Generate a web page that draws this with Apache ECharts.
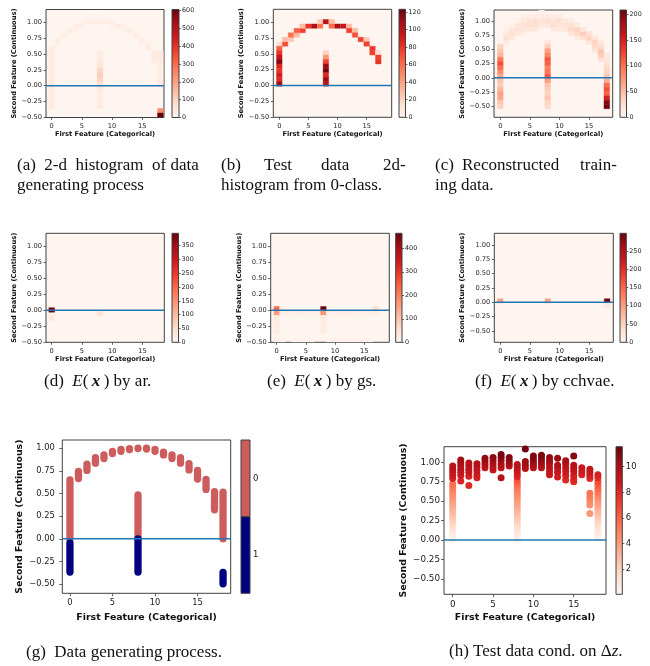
<!DOCTYPE html>
<html>
<head>
<meta charset="utf-8">
<title>Figure</title>
<script src="https://cdn.jsdelivr.net/npm/echarts@6.0.0/dist/echarts.min.js"></script>
<style>
html,body{margin:0;padding:0;background:#ffffff;}
#chart{width:650px;height:666px;}
</style>
</head>
<body>
<div id="chart"></div>
<script>
// ================= DATA =================
const xTickValues = [0, 5, 10, 15];
const yTickValues = [-0.5, -0.25, 0, 0.25, 0.5, 0.75, 1.0];
const zeroLineY = 0;

// (a) 2-d histogram of data generating process: [category, y-bin centre, count]
const histA = [
  [0,0.585,28],[0,0.515,35],[0,0.445,30],[0,0.375,35],[0,0.305,30],[0,0.235,35],[0,0.165,30],
  [0,0.095,35],[0,0.025,38],[0,-0.045,35],[0,-0.115,30],[0,-0.185,40],[0,-0.255,35],[0,-0.325,45],
  [8,0.515,25],[8,0.445,35],[8,0.375,45],[8,0.305,60],[8,0.235,95],[8,0.165,110],[8,0.095,100],
  [8,0.025,70],[8,-0.045,45],[8,-0.115,35],[8,-0.185,30],[8,-0.255,35],[8,-0.325,40],
  [18,0.515,45],[18,0.445,45],[18,0.375,40],[18,0.305,30],[18,0.235,30],[18,0.165,30],[18,0.095,35],
  [18,0.025,40],[18,-0.395,240],[18,-0.465,605],
  [17,0.515,45],[17,0.445,40],[17,0.375,30],
  [1,0.655,20],[1,0.725,30],[2,0.795,30],[3,0.865,30],[4,0.865,15],[4,0.935,30],[5,0.935,20],
  [5,1.005,15],[6,1.005,30],[7,1.005,25],[7,1.075,10],[8,1.005,30],[8,1.075,12],[9,1.005,30],
  [10,1.005,20],[10,0.935,15],[11,0.935,30],[12,0.935,20],[12,0.865,15],[13,0.865,30],[14,0.795,30],
  [15,0.725,25],[15,0.655,15],[16,0.655,25],[16,0.585,30]
];
// (b) test data 2d-histogram from 0-class
const histB = [
  [0,0.655,15],[0,0.585,65],[0,0.515,80],[0,0.445,95],[0,0.375,115],[0,0.305,85],[0,0.235,80],
  [0,0.165,90],[0,0.095,85],[0,0.025,110],
  [8,0.515,20],[8,0.445,45],[8,0.375,75],[8,0.305,110],[8,0.235,120],[8,0.165,85],[8,0.095,110],[8,0.025,100],
  [1,0.655,70],[1,0.725,30],[2,0.725,25],[2,0.795,60],[3,0.795,30],[3,0.865,65],[4,0.865,75],[4,0.935,30],
  [5,0.935,80],[6,0.935,105],[7,0.935,60],[7,1.005,25],[8,1.005,100],[9,1.005,30],[9,0.935,60],
  [10,0.935,105],[11,0.935,95],[12,0.935,30],[12,0.865,75],[13,0.865,30],[13,0.795,70],[14,0.725,75],
  [15,0.725,25],[15,0.655,75],[16,0.585,80],[16,0.515,75],[17,0.515,15],[17,0.445,75],[17,0.375,80]
];
// (c) reconstructed training data
const histC = [
  [0,0.554,35],[0,0.478,45],[0,0.402,55],[0,0.326,95],[0,0.250,120],[0,0.174,100],[0,0.098,80],
  [0,0.022,65],[0,-0.054,45],[0,-0.130,40],[0,-0.206,55],[0,-0.282,70],[0,-0.358,65],[0,-0.434,45],[0,-0.510,35],
  [8,0.630,20],[8,0.554,40],[8,0.478,70],[8,0.402,85],[8,0.326,115],[8,0.250,110],[8,0.174,90],[8,0.098,95],
  [8,0.022,120],[8,-0.054,70],[8,-0.130,45],[8,-0.206,40],[8,-0.282,35],[8,-0.358,45],[8,-0.434,35],[8,-0.510,30],
  [18,0.402,15],[18,0.326,20],[18,0.250,25],[18,0.174,30],[18,0.098,35],[18,0.022,45],[18,-0.054,60],[18,-0.130,100],
  [18,-0.206,120],[18,-0.282,110],[18,-0.358,150],[18,-0.434,195],[18,-0.510,205],
  [1,0.630,15],[1,0.706,25],[1,0.782,15],[1,0.858,8],
  [2,0.706,15],[2,0.782,25],[2,0.858,20],[2,0.934,8],
  [3,0.782,15],[3,0.858,25],[3,0.934,20],[3,1.010,8],
  [4,0.782,10],[4,0.858,20],[4,0.934,25],[4,1.010,15],[4,1.086,8],
  [5,0.858,20],[5,0.934,25],[5,1.010,20],[5,1.086,10],
  [6,0.858,15],[6,0.934,25],[6,1.010,25],[6,1.086,12],
  [7,0.934,15],[7,1.010,20],[7,1.086,15],[7,1.162,8],
  [8,0.934,20],[8,1.010,25],[8,1.086,15],
  [9,0.858,15],[9,0.934,25],[9,1.010,20],[9,1.086,10],
  [10,0.858,15],[10,0.934,20],[10,1.010,25],[10,1.086,12],
  [11,0.858,20],[11,0.934,25],[11,1.010,15],
  [12,0.782,20],[12,0.858,30],[12,0.934,25],[12,1.010,10],
  [13,0.706,15],[13,0.782,30],[13,0.858,35],[13,0.934,15],
  [14,0.706,25],[14,0.782,40],[14,0.858,20],
  [15,0.630,20],[15,0.706,35],[15,0.782,25],
  [16,0.478,15],[16,0.554,30],[16,0.630,35],[16,0.706,20],
  [17,0.326,25],[17,0.402,40],[17,0.478,45],[17,0.554,30],[17,0.630,15]
];
// (d) E(x) by ar.
const histD = [[0,0.005,390],[0,-0.12,30],[8,-0.055,45]];
// (e) E(x) by gs.
const histE = [
  [0,0.025,230],[0,-0.045,165],[0,-0.115,30],[0,-0.185,25],[0,-0.255,25],[0,-0.325,22],[0,-0.465,8],
  [1,0.025,25],[1,-0.045,20],[2,-0.045,15],[3,-0.045,14],[4,-0.045,16],[5,-0.045,14],[6,-0.045,16],[7,-0.045,12],
  [8,0.025,460],[8,-0.045,170],[8,-0.115,30],[8,-0.185,28],[8,-0.255,28],[8,-0.325,25],
  [9,-0.045,15],[10,-0.045,14],[11,-0.045,16],[12,-0.045,18],[13,-0.045,16],[14,-0.045,15],[15,-0.045,14],
  [16,-0.045,15],[17,0.025,60],[17,-0.045,20],
  [1,-0.465,6],[3,-0.465,8],[4,-0.465,8],[5,-0.465,6],[6,-0.465,8],[9,-0.465,6],[10,-0.465,8],
  [11,-0.465,8],[12,-0.465,10],[13,-0.465,8],[14,-0.465,6],[15,-0.465,8],[16,-0.465,6]
];
// (f) E(x) by cchvae.
const histF = [[0,0.022,95],[8,0.022,95],[18,0.022,295],[18,-0.054,25]];

// colour-bar ranges and tick labels
const cbRangeA = [0, 605], cbTicksA = [0, 100, 200, 300, 400, 500, 600];
const cbRangeB = [0, 123], cbTicksB = [0, 20, 40, 60, 80, 100, 120];
const cbRangeC = [0, 208], cbTicksC = [0, 50, 100, 150, 200];
const cbRangeD = [0, 395], cbTicksD = [0, 50, 100, 150, 200, 250, 300, 350];
const cbRangeE = [0, 464], cbTicksE = [0, 100, 200, 300, 400];
const cbRangeF = [0, 298], cbTicksF = [0, 50, 100, 150, 200, 250];
const cbRangeH = [0.05, 11.56], cbTicksH = [2, 4, 6, 8, 10];

// (g) data generating process: [category, lowest y, highest y] of the stacked points
const classLabels = ['1', '0'];
const class0Ranges = [
  [0,0.0,0.65],[1,0.665,0.745],[2,0.755,0.825],[3,0.835,0.895],[4,0.885,0.925],[5,0.94,0.965],
  [6,0.965,0.985],[7,0.985,0.995],[8,0.995,1.0],[9,0.99,1.0],[10,0.965,0.985],[11,0.925,0.955],
  [12,0.885,0.925],[13,0.835,0.895],[14,0.76,0.83],[15,0.66,0.755],[16,0.545,0.655],[17,0.32,0.52],
  [18,0.0,0.515],[8,0.0,0.485]
];
const class1Ranges = [[0,-0.365,-0.045],[8,-0.365,0.0],[18,-0.495,-0.37]];

// (h) test data conditioned on dz: [category, y, dz]
const dzPoints = [
  [0,0.00,0.15],[0,0.04,0.4],[0,0.08,0.7],[0,0.12,1.0],[0,0.16,1.4],[0,0.20,1.7],[0,0.24,2.0],[0,0.28,2.3],
  [0,0.32,2.6],[0,0.36,2.9],[0,0.40,3.2],[0,0.44,3.4],[0,0.48,3.7],[0,0.52,4.0],[0,0.56,4.3],[0,0.60,4.6],
  [0,0.64,4.9],[0,0.68,5.2],[0,0.72,5.6],[0,0.79,8.2],[0,0.83,8.6],[0,0.87,8.9],[0,0.91,9.2],[0,0.95,9.4],
  [1,0.76,8.2],[1,0.83,8.6],[1,0.87,9.0],[1,0.91,9.2],[1,0.95,9.5],[1,0.99,9.8],[1,1.03,10.2],
  [2,0.70,8.0],[2,0.82,8.4],[2,0.87,8.8],[2,0.91,9.1],[2,0.95,9.3],[2,0.99,9.6],
  [3,0.80,8.3],[3,0.84,8.6],[3,0.89,8.9],[3,0.94,9.2],[3,0.98,9.6],
  [4,0.93,9.2],[4,0.97,9.6],[4,1.01,10.0],[4,1.05,10.5],
  [5,0.90,9.0],[5,0.94,9.3],[5,0.98,9.7],[5,1.02,10.1],[5,1.06,10.6],
  [6,0.80,9.5],[6,0.93,9.3],[6,0.97,9.7],[6,1.02,10.2],[6,1.06,10.7],[6,1.10,11.2],
  [7,0.95,9.6],[7,0.98,10.0],[7,1.02,10.4],[7,1.06,10.9],
  [8,0.00,0.2],[8,0.04,0.5],[8,0.08,0.8],[8,0.12,1.1],[8,0.16,1.4],[8,0.20,1.7],[8,0.24,2.0],[8,0.28,2.3],
  [8,0.32,2.6],[8,0.36,2.9],[8,0.40,3.2],[8,0.44,3.5],[8,0.48,3.8],[8,0.52,4.1],[8,0.56,4.4],[8,0.60,4.7],
  [8,0.64,5.0],[8,0.68,5.4],[8,0.72,5.8],[8,0.76,6.3],[8,0.81,8.0],[8,0.85,8.4],[8,0.89,8.7],[8,0.93,9.0],[8,0.97,9.3],
  [9,0.92,9.5],[9,0.96,9.9],[9,1.01,10.3],[9,1.17,11.3],
  [10,0.93,9.5],[10,0.96,9.8],[10,1.00,10.2],[10,1.04,10.6],[10,1.08,11.0],
  [11,0.93,9.5],[11,0.97,9.9],[11,1.01,10.3],[11,1.05,10.7],[11,1.09,11.1],
  [12,0.84,8.7],[12,0.88,9.0],[12,0.93,9.3],[12,0.98,9.7],[12,1.02,10.0],[12,1.06,10.5],
  [13,0.81,8.5],[13,0.87,8.9],[13,0.92,9.2],[13,0.96,9.6],[13,1.05,10.4],
  [14,0.77,8.0],[14,0.83,8.4],[14,0.88,8.7],[14,0.93,9.1],[14,0.98,9.5],[14,1.02,10.0],
  [15,0.75,7.8],[15,0.78,8.1],[15,0.83,8.4],[15,0.88,8.8],[15,0.92,9.1],[15,0.96,9.5],[15,1.08,10.8],
  [16,0.84,8.2],[16,0.88,8.5],[16,0.93,8.8],
  [17,0.34,4.2],[17,0.45,4.4],[17,0.50,4.7],[17,0.55,5.0],[17,0.60,5.4],[17,0.79,8.0],[17,0.83,8.4],[17,0.87,8.8],[17,0.91,9.0],
  [18,0.02,0.2],[18,0.06,0.5],[18,0.10,0.8],[18,0.14,1.1],[18,0.18,1.4],[18,0.22,1.7],[18,0.26,2.0],[18,0.30,2.4],
  [18,0.34,2.7],[18,0.38,3.0],[18,0.42,3.4],[18,0.46,3.8],[18,0.50,4.1],[18,0.54,4.5],[18,0.58,4.9],[18,0.62,5.3],
  [18,0.66,5.8],[18,0.70,6.2],[18,0.75,6.8],[18,0.80,7.8],[18,0.84,8.3]
];

// ================= STYLE / LAYOUT =================
const REDS = ['#fff5f0','#fee0d2','#fcbba1','#fc9272','#fb6a4a','#ef3b2c','#cb181d','#a50f15','#67000d'];
const CLASS_COLORS = {'0': '#cd5c5c', '1': '#000080'};
const FONT = 'DejaVu Sans';
const SERIF = 'Liberation Serif';
const FRAME = '#404040';
const LINE_BLUE = '#1f77b4';

const small = {fs:6.7, nameFs:6.7, cbFs:6.4, xGap:13.5, xMargin:5, yMargin:4, tick:2.5, cbMargin:3, cw:0.95, lw:1.5};
const P = {
  a: Object.assign({}, small, {grid:{left:46, top:9.5, width:118, height:108}, cb:{left:172, top:9.5, width:7, height:108}, x:[-0.94,18.6], y:[-0.5,1.2], yGap:27, ch:0.07}),
  b: Object.assign({}, small, {grid:{left:273.3, top:9.3, width:118.4, height:108}, cb:{left:399, top:9.3, width:6.5, height:108}, x:[-1.03,19.3], y:[-0.5,1.2], yGap:26, ch:0.07}),
  c: Object.assign({}, small, {grid:{left:494, top:10, width:118.7, height:107.3}, cb:{left:620, top:10, width:6.5, height:107.3}, x:[-1.07,19.0], y:[-0.7,1.2], yGap:26, ch:0.076}),
  d: Object.assign({}, small, {grid:{left:46, top:233.3, width:118.3, height:109}, cb:{left:172, top:233.3, width:6.5, height:109}, x:[-0.94,18.6], y:[-0.5,1.2], yGap:27, ch:0.07, xGap:13}),
  e: Object.assign({}, small, {grid:{left:270.7, top:233.3, width:118.6, height:109}, cb:{left:395.7, top:233.3, width:6.3, height:109}, x:[-1.03,19.3], y:[-0.5,1.2], yGap:24, ch:0.07, xGap:13}),
  f: Object.assign({}, small, {grid:{left:494.3, top:233.3, width:119, height:109}, cb:{left:620, top:233.3, width:6.3, height:109}, x:[-1.01,19.04], y:[-0.7,1.2], yGap:26, ch:0.076, xGap:13}),
  g: {grid:{left:62.3, top:440, width:168.4, height:153.3}, cb:{left:241, top:440, width:9, height:153.3}, x:[-0.9,18.9], y:[-0.6,1.09], fs:8.3, nameFs:9.4, cbFs:8.5, xGap:19.5, yGap:38, xMargin:5.5, yMargin:7.5, tick:3, cbMargin:3, lw:1.5, capR:3.65},
  h: {grid:{left:444, top:446.7, width:162, height:147.6}, cb:{left:616, top:446.7, width:6.3, height:147.6}, x:[-1.08,19.0], y:[-0.7,1.2], fs:8.8, nameFs:9.4, cbFs:8.4, xGap:18.5, yGap:36, xMargin:5.5, yMargin:4, tick:3, cbMargin:3.5, lw:1.5, sym:7}
};

// ================= BUILD =================
const option = {animation:false, backgroundColor:'#ffffff', title:[], grid:[], xAxis:[], yAxis:[], visualMap:[], series:[]};

function fmtY(v) { return (v < 0 ? '\u2212' : '') + Math.abs(v).toFixed(2); }

function addMainPanel(p, bg) {
  const gi = option.grid.length;
  option.grid.push({left:p.grid.left, top:p.grid.top, width:p.grid.width, height:p.grid.height,
    show:true, backgroundColor:bg, borderColor:FRAME, borderWidth:1});
  const xi = option.xAxis.length;
  option.xAxis.push({
    gridIndex:gi, type:'value', min:p.x[0], max:p.x[1],
    name:'First Feature (Categorical)', nameLocation:'middle', nameGap:p.xGap,
    nameTextStyle:{fontFamily:FONT, fontWeight:'bold', fontSize:p.nameFs, color:'#111'},
    axisLine:{show:false, onZero:false}, splitLine:{show:false},
    axisTick:{show:true, length:p.tick, customValues:xTickValues, lineStyle:{color:FRAME, width:0.8}},
    axisLabel:{customValues:xTickValues, fontFamily:FONT, fontSize:p.fs, color:'#222', margin:p.xMargin, formatter:function(v){return String(v);}}
  });
  const yi = option.yAxis.length;
  option.yAxis.push({
    gridIndex:gi, type:'value', min:p.y[0], max:p.y[1],
    name:'Second Feature (Continuous)', nameLocation:'middle', nameGap:p.yGap, nameRotate:90,
    nameTextStyle:{fontFamily:FONT, fontWeight:'bold', fontSize:p.nameFs, color:'#111'},
    axisLine:{show:false, onZero:false}, splitLine:{show:false},
    axisTick:{show:true, length:p.tick, customValues:yTickValues, lineStyle:{color:FRAME, width:0.8}},
    axisLabel:{customValues:yTickValues, fontFamily:FONT, fontSize:p.fs, color:'#222', margin:p.yMargin, formatter:fmtY}
  });
  return {xi:xi, yi:yi};
}

function addZeroLine(ax, p) {
  option.series.push({type:'line', xAxisIndex:ax.xi, yAxisIndex:ax.yi,
    data:[[p.x[0], zeroLineY], [p.x[1], zeroLineY]], symbol:'none', silent:true, z:6,
    lineStyle:{color:LINE_BLUE, width:p.lw}});
}

const gradientStops = REDS.map(function(c, i){ return {offset:i/(REDS.length-1), color:c}; });

function addColorbar(p, range, ticks) {
  const gi = option.grid.length;
  option.grid.push({left:p.cb.left, top:p.cb.top, width:p.cb.width, height:p.cb.height, show:false});
  const xi = option.xAxis.length;
  option.xAxis.push({gridIndex:gi, type:'value', min:0, max:1, show:false});
  const yi = option.yAxis.length;
  option.yAxis.push({gridIndex:gi, type:'value', min:range[0], max:range[1], position:'right',
    axisLine:{show:false, onZero:false}, splitLine:{show:false},
    axisTick:{show:true, length:2, customValues:ticks, lineStyle:{color:FRAME, width:0.8}},
    axisLabel:{customValues:ticks, fontFamily:FONT, fontSize:p.cbFs, color:'#222', margin:p.cbMargin}});
  option.series.push({type:'custom', xAxisIndex:xi, yAxisIndex:yi, silent:true, z:3,
    data:[[0, range[0], range[1]]], encode:{x:0, y:[1,2]},
    renderItem:function(params, api){
      const a = api.coord([0, api.value(2)]);
      const b = api.coord([1, api.value(1)]);
      return {type:'rect', shape:{x:a[0], y:a[1], width:b[0]-a[0], height:b[1]-a[1]},
        style:{fill:{type:'linear', x:0, y:1, x2:0, y2:0, colorStops:gradientStops}, stroke:FRAME, lineWidth:1}};
    }});
}

function addHeat(ax, p, cells, range) {
  const si = option.series.length;
  option.series.push({type:'custom', xAxisIndex:ax.xi, yAxisIndex:ax.yi, data:cells, clip:true, silent:true, z:2,
    encode:{x:0, y:1},
    renderItem:function(params, api){
      const x = api.value(0), y = api.value(1);
      const a = api.coord([x - p.cw/2, y + p.ch/2]);
      const b = api.coord([x + p.cw/2, y - p.ch/2]);
      const col = api.visual('color');
      return {type:'rect', shape:{x:a[0], y:a[1], width:b[0]-a[0], height:b[1]-a[1]},
        style:{fill:col, stroke:col, lineWidth:0.4}};
    }});
  option.visualMap.push({type:'continuous', show:false, seriesIndex:si, dimension:2,
    min:range[0], max:range[1], inRange:{color:REDS}});
}

// histogram panels
const heatPanels = [
  ['a', histA, cbRangeA, cbTicksA], ['b', histB, cbRangeB, cbTicksB], ['c', histC, cbRangeC, cbTicksC],
  ['d', histD, cbRangeD, cbTicksD], ['e', histE, cbRangeE, cbTicksE], ['f', histF, cbRangeF, cbTicksF]
];
heatPanels.forEach(function(hp){
  const p = P[hp[0]];
  const ax = addMainPanel(p, REDS[0]);
  addHeat(ax, p, hp[1], hp[2]);
  addZeroLine(ax, p);
  addColorbar(p, hp[2], hp[3]);
});

// (g) scatter of data generating process
(function(){
  const p = P.g;
  const ax = addMainPanel(p, '#ffffff');
  function capsules(ranges, color) {
    option.series.push({type:'custom', xAxisIndex:ax.xi, yAxisIndex:ax.yi, data:ranges, silent:true, z:2,
      encode:{x:0, y:[1,2]},
      renderItem:function(params, api){
        const top = api.coord([api.value(0), api.value(2)]);
        const bot = api.coord([api.value(0), api.value(1)]);
        const r = p.capR;
        return {type:'rect', shape:{x:top[0]-r, y:top[1]-r, width:2*r, height:bot[1]-top[1]+2*r, r:r}, style:{fill:color}};
      }});
  }
  capsules(class0Ranges, CLASS_COLORS['0']);
  capsules(class1Ranges, CLASS_COLORS['1']);
  addZeroLine(ax, p);
  // categorical colour bar
  const gi = option.grid.length;
  option.grid.push({left:p.cb.left, top:p.cb.top, width:p.cb.width, height:p.cb.height, show:false});
  const xi = option.xAxis.length;
  option.xAxis.push({gridIndex:gi, type:'value', min:0, max:1, show:false});
  const yi = option.yAxis.length;
  option.yAxis.push({gridIndex:gi, type:'category', data:classLabels, position:'right',
    axisLine:{show:false}, axisTick:{show:false}, splitLine:{show:false},
    axisLabel:{fontFamily:FONT, fontSize:p.cbFs, color:'#222', margin:p.cbMargin}});
  option.series.push({type:'custom', xAxisIndex:xi, yAxisIndex:yi, silent:true, z:3,
    data:classLabels.map(function(c){ return [0, c]; }), encode:{x:0, y:1},
    renderItem:function(params, api){
      const y = api.value(1);
      const a = api.coord([0, y]);
      const b = api.coord([1, y]);
      const band = api.size([0, 1])[1];
      return {type:'rect', shape:{x:a[0], y:a[1]-band/2, width:b[0]-a[0], height:band},
        style:{fill:CLASS_COLORS[classLabels[params.dataIndex]], stroke:FRAME, lineWidth:1}};
    }});
})();

// (h) scatter conditioned on dz
(function(){
  const p = P.h;
  const ax = addMainPanel(p, '#ffffff');
  const si = option.series.length;
  option.series.push({type:'scatter', xAxisIndex:ax.xi, yAxisIndex:ax.yi, data:dzPoints, symbolSize:p.sym, silent:true, z:2,
    itemStyle:{opacity:1}});
  option.visualMap.push({type:'continuous', show:false, seriesIndex:si, dimension:2,
    min:cbRangeH[0], max:cbRangeH[1], inRange:{color:REDS}});
  addZeroLine(ax, p);
  addColorbar(p, cbRangeH, cbTicksH);
})();

// ================= CAPTIONS =================
const CAP = {fontFamily:SERIF, fontSize:17, color:'#111', fontWeight:'normal', lineHeight:20};
const RICH = {
  n:{fontFamily:SERIF, fontSize:17, color:'#111', fontWeight:'normal', fontStyle:'normal'},
  i:{fontFamily:SERIF, fontSize:17, color:'#111', fontWeight:'normal', fontStyle:'italic'},
  b:{fontFamily:SERIF, fontSize:17, color:'#111', fontWeight:'bold', fontStyle:'italic'}
};
function cap(left, top, text) {
  option.title.push({left:left, top:top, padding:0, text:text, textStyle:CAP});
}
function mathCap(left, top, label, method) {
  option.title.push({left:left, top:top, padding:0,
    text:'{n|' + label + '  }{i|E}{n|(\u2009}{b|x}{n|\u2009) by ' + method + '}',
    textStyle:{fontFamily:SERIF, fontSize:17, fontWeight:'normal', color:'#111', rich:RICH}});
}
cap(17, 156, '(a)  2-d  histogram  of data\ngenerating process');
cap(221, 156, '(b)');
cap(264, 156, 'Test');
cap(321, 156, 'data');
cap(383, 156, '2d-');
cap(221, 176, 'histogram from 0-class.');
cap(435, 156, '(c)');
cap(462, 156, 'Reconstructed');
cap(580, 156, 'train-');
cap(435, 176, 'ing data.');
mathCap(44, 373, '(d)', 'ar.');
mathCap(267, 373, '(e)', 'gs.');
mathCap(475, 373, '(f)', 'cchvae.');
cap(26, 643, '(g)  Data generating process.');
option.title.push({left:449, top:643, padding:0,
  text:'{n|(h) Test data cond. on \u0394}{i|z}{n|.}',
  textStyle:{fontFamily:SERIF, fontSize:17, fontWeight:'normal', color:'#111', rich:RICH}});

const chart = echarts.init(document.getElementById('chart'), null, {renderer:'canvas'});
chart.setOption(option);
</script>
</body>
</html>
